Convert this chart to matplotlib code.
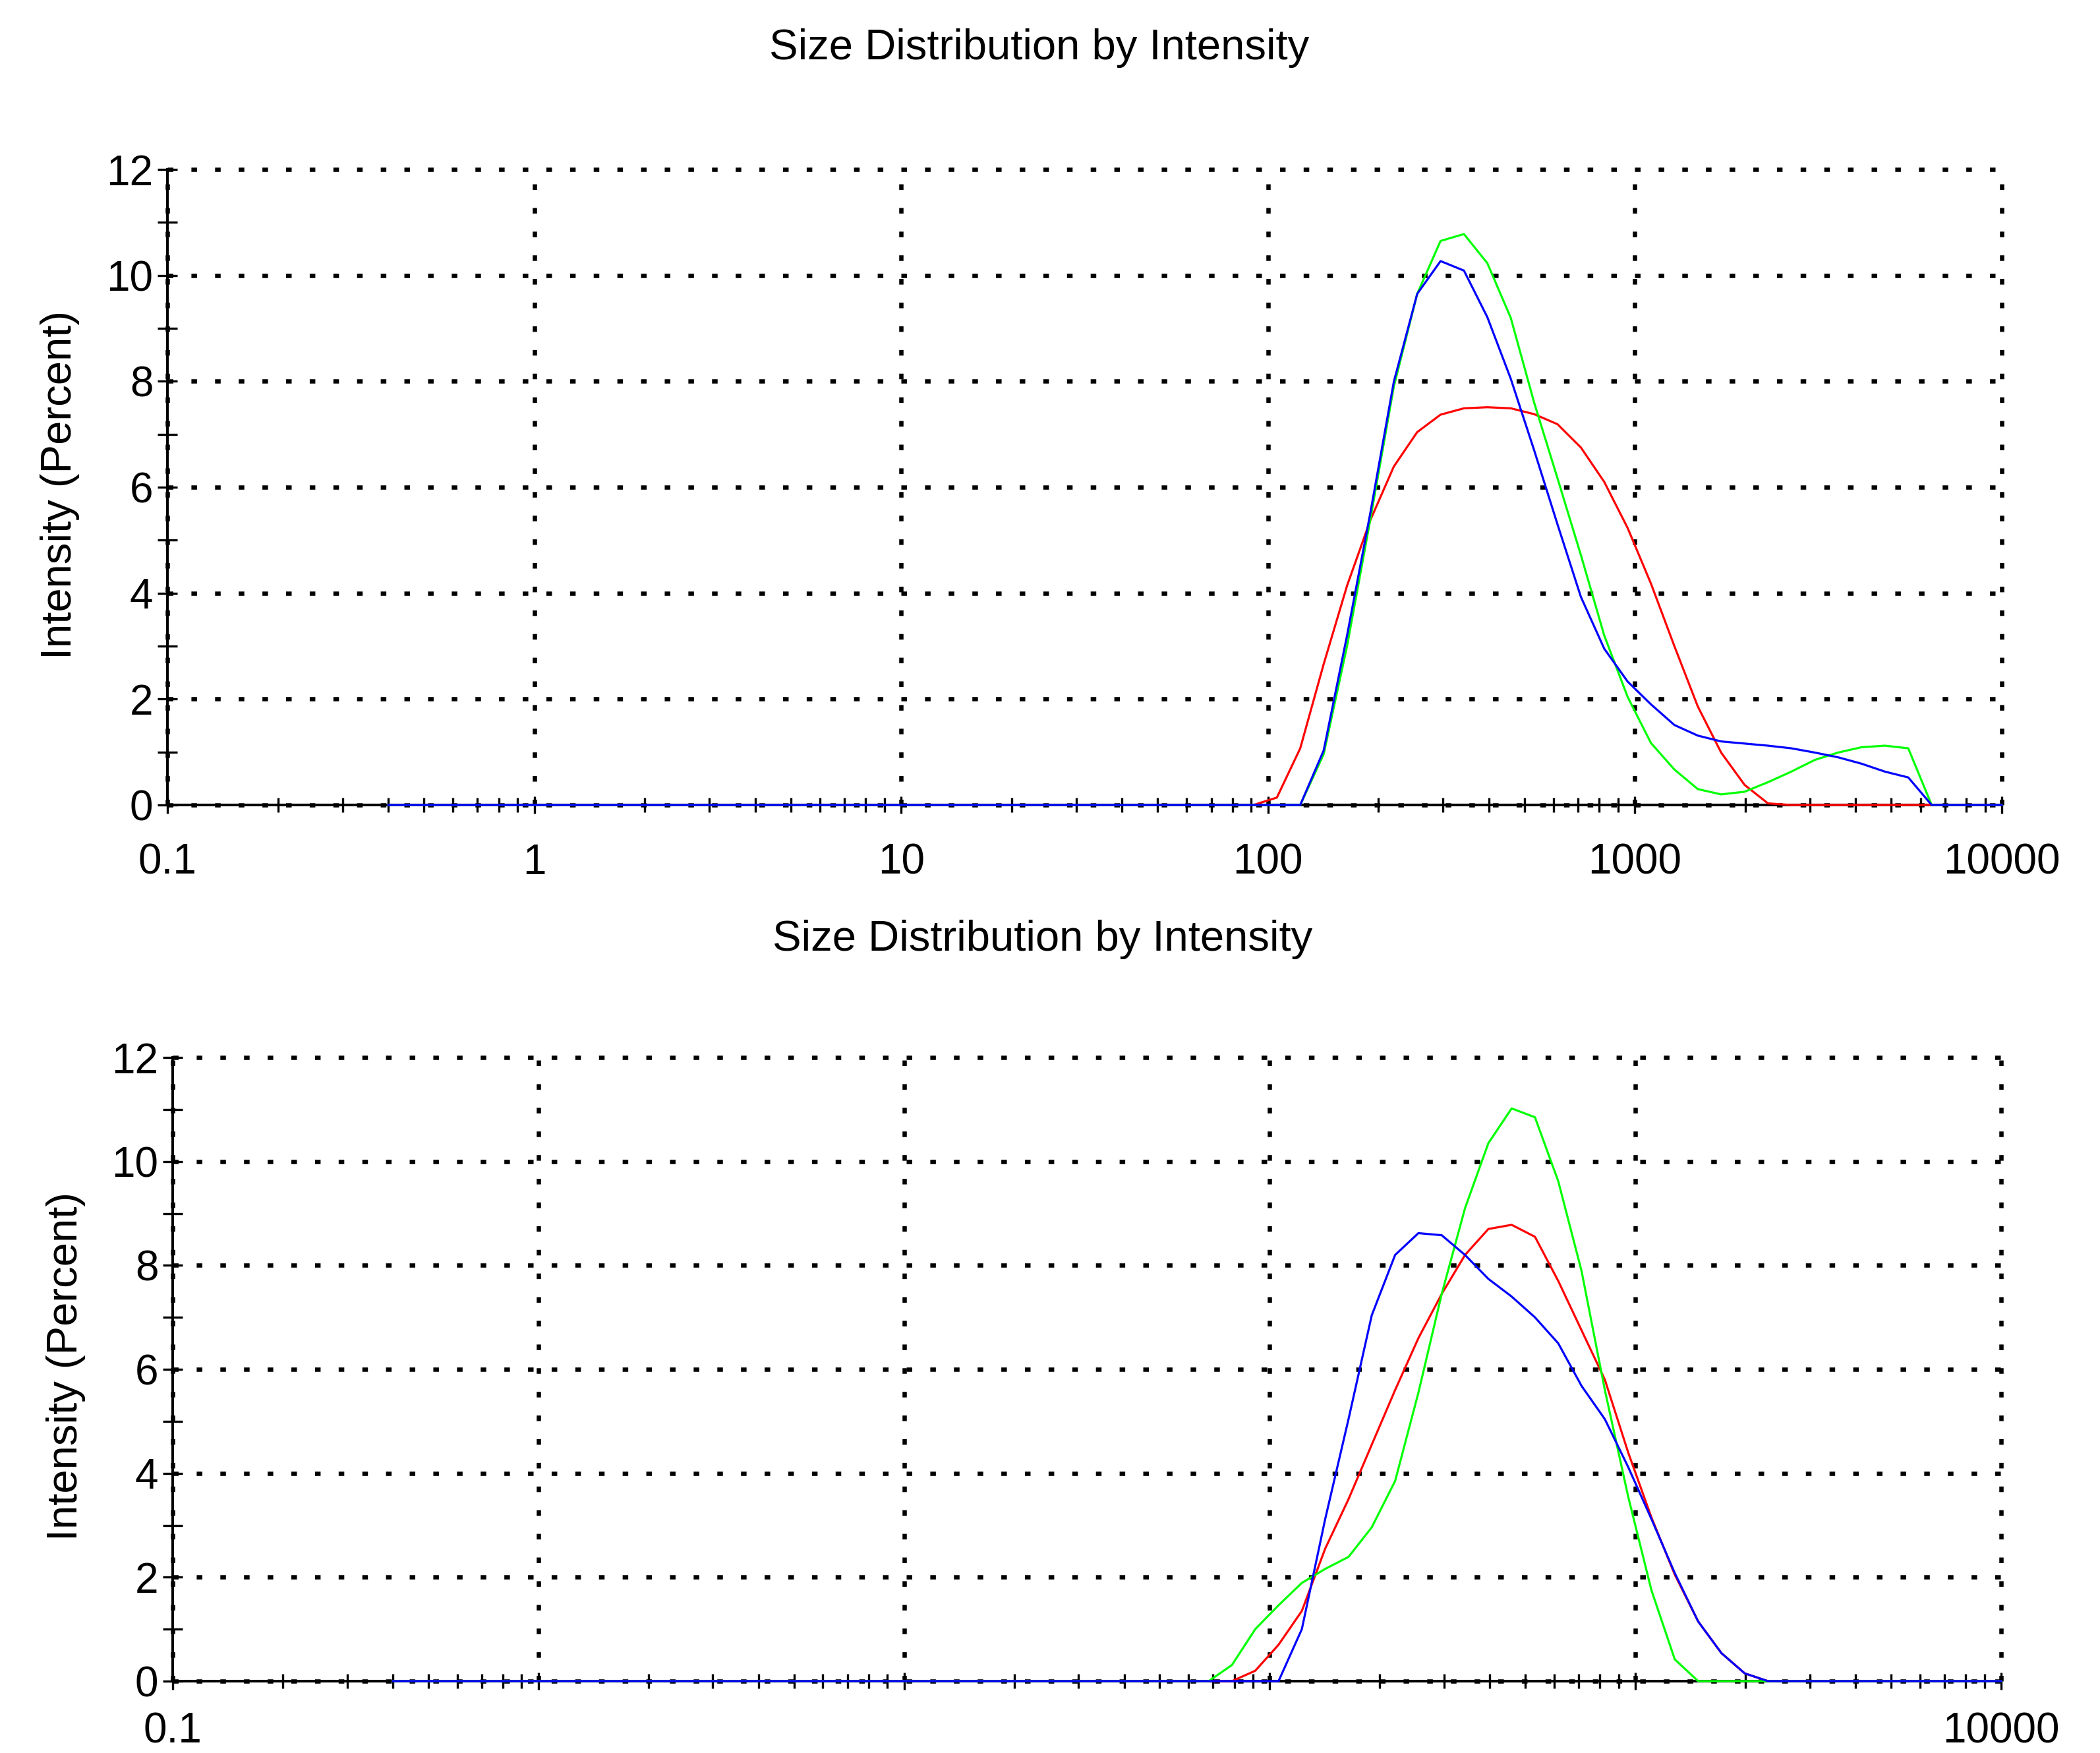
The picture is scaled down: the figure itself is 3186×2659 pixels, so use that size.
import matplotlib.pyplot as plt
from matplotlib.ticker import FixedLocator, LogLocator, NullFormatter

plt.rcParams['font.family'] = ['Liberation Sans', 'DejaVu Sans']

# size bins (d.nm) where the curves change
sizes = [0.4, 68.06, 78.82, 91.28, 105.7, 122.4, 141.8, 164.2, 190.1, 220.2,
         255.0, 295.3, 342.0, 396.1, 458.7, 531.2, 615.1, 712.4, 825.0, 955.4,
         1106, 1281, 1484, 1718, 1990, 2305, 2669, 3091, 3580, 4145,
         4801, 5560, 6439, 7456, 8635, 10000]

# upper chart
top_red = [0, 0, 0, 0, 0.14, 1.07, 2.66, 4.14, 5.38, 6.39,
           7.04, 7.37, 7.49, 7.51, 7.49, 7.38, 7.19, 6.75, 6.10, 5.23,
           4.18, 3.00, 1.86, 0.99, 0.38, 0.03, 0, 0, 0, 0,
           0, 0, 0, 0, 0, 0]
top_green = [0, 0, 0, 0, 0, 0, 0.96, 3.00, 5.40, 7.90,
             9.65, 10.65, 10.78, 10.23, 9.20, 7.60, 6.17, 4.72, 3.20, 2.04,
             1.17, 0.67, 0.30, 0.20, 0.25, 0.43, 0.63, 0.85, 0.99, 1.09,
             1.12, 1.07, 0, 0, 0, 0]
top_blue = [0, 0, 0, 0, 0, 0, 1.03, 3.20, 5.52, 7.99,
            9.65, 10.27, 10.09, 9.21, 8.05, 6.70, 5.30, 3.93, 2.95, 2.33,
            1.90, 1.51, 1.31, 1.20, 1.16, 1.12, 1.07, 0.99, 0.90, 0.78,
            0.63, 0.52, 0, 0, 0, 0]

# lower chart
bot_red = [0, 0, 0, 0.20, 0.70, 1.35, 2.55, 3.50, 4.55, 5.60,
           6.60, 7.45, 8.20, 8.70, 8.78, 8.55, 7.70, 6.75, 5.80, 4.40,
           3.15, 2.05, 1.15, 0.54, 0.15, 0, 0, 0, 0, 0,
           0, 0, 0, 0, 0, 0]
bot_green = [0, 0, 0.31, 1.00, 1.46, 1.89, 2.16, 2.39, 2.96, 3.85,
             5.55, 7.45, 9.10, 10.35, 11.02, 10.85, 9.62, 7.89, 5.60, 3.55,
             1.75, 0.42, 0, 0, 0, 0, 0, 0, 0, 0,
             0, 0, 0, 0, 0, 0]
bot_blue = [0, 0, 0, 0, 0, 1.00, 3.12, 5.04, 7.04, 8.20,
            8.62, 8.58, 8.20, 7.74, 7.40, 7.00, 6.50, 5.68, 5.04, 4.12,
            3.12, 2.08, 1.15, 0.54, 0.15, 0, 0, 0, 0, 0,
            0, 0, 0, 0, 0, 0]

title = 'Size Distribution by Intensity'
ylabel = 'Intensity (Percent)'
x_ticks = [0.1, 1, 10, 100, 1000, 10000]
top_xlabels = ['0.1', '1', '10', '100', '1000', '10000']
bot_xlabels = ['0.1', '', '', '', '', '10000']
y_ticks = [0, 2, 4, 6, 8, 10, 12]
y_minor = [1, 3, 5, 7, 9, 11]

fig = plt.figure(figsize=(31.86, 26.59), dpi=100)


def setup(ax, xlabels, xpad):
    ax.set_xscale('log')
    ax.set_xlim(0.1, 10000)
    ax.set_ylim(0, 12)
    ax.xaxis.set_major_locator(FixedLocator(x_ticks))
    ax.xaxis.set_minor_locator(LogLocator(base=10, subs=range(2, 10), numticks=20))
    ax.xaxis.set_minor_formatter(NullFormatter())
    ax.set_xticklabels(xlabels)
    ax.set_yticks(y_ticks)
    ax.yaxis.set_minor_locator(FixedLocator(y_minor))
    ax.grid(True, which='major', color='black', lw=4.7, linestyle=(0, (1.3, 4.2)))
    ax.set_axisbelow(True)
    for s in ['top', 'right']:
        ax.spines[s].set_visible(False)
    for s in ['left', 'bottom']:
        ax.spines[s].set_linewidth(2.9)
    ax.tick_params(axis='both', which='both', direction='inout', color='black',
                   width=2.4, labelsize=46)
    ax.tick_params(axis='x', which='major', length=19, pad=xpad)
    ax.tick_params(axis='x', which='minor', length=16)
    ax.tick_params(axis='y', which='both', length=21, pad=5)
    for line in ax.get_xgridlines() + ax.get_ygridlines():
        line.set_clip_on(False)


ax1 = fig.add_axes([0.07972, 0.54080, 0.87351, 0.36254])
setup(ax1, top_xlabels, 32)
ax1.plot(sizes, top_red, color='#ff0000', lw=2.3, clip_on=False, zorder=3)
ax1.plot(sizes, top_green, color='#00ff00', lw=2.3, clip_on=False, zorder=3)
ax1.plot(sizes, top_blue, color='#0000ff', lw=2.3, clip_on=False, zorder=3)

ax2 = fig.add_axes([0.08223, 0.04099, 0.87068, 0.35577])
setup(ax2, bot_xlabels, 24)
ax2.plot(sizes, bot_red, color='#ff0000', lw=2.3, clip_on=False, zorder=3)
ax2.plot(sizes, bot_green, color='#00ff00', lw=2.3, clip_on=False, zorder=3)
ax2.plot(sizes, bot_blue, color='#0000ff', lw=2.3, clip_on=False, zorder=3)

fig.text(0.495, 0.9661, title, ha='center', va='baseline', fontsize=47)
fig.text(0.4965, 0.4577, title, ha='center', va='baseline', fontsize=47)
fig.text(0.0287, 0.7234, ylabel, rotation=90, ha='center', va='center', fontsize=47)
fig.text(0.0315, 0.2206, ylabel, rotation=90, ha='center', va='center', fontsize=47)

fig.savefig('out.png', dpi=100)
